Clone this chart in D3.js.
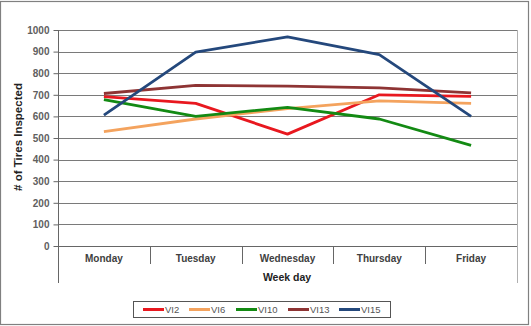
<!DOCTYPE html>
<html><head><meta charset="utf-8">
<script src="https://cdn.jsdelivr.net/npm/d3@7"></script>
<style>body{margin:0;background:#fff}svg{display:block}text{font-family:"Liberation Sans",Arial,sans-serif}</style>
</head><body><svg id="c" width="531" height="326"></svg>
<script>
const days = ["Monday","Tuesday","Wednesday","Thursday","Friday"];
const seriesNames = ["VI2","VI6","VI10","VI13","VI15"];
const colors = ["#e8181f","#f4a35e","#138a13","#8e3434","#24487c"];
const VI2  = [692,660,518,700,693];
const VI6  = [530,588,636,672,660];
const VI10 = [678,600,642,588,466];
const VI13 = [706,744,740,732,709];
const VI15 = [606,898,968,886,600];
const yTicks = [0,100,200,300,400,500,600,700,800,900,1000];
const allSeries = [VI2,VI6,VI10,VI13,VI15];

const svg = d3.select("#c");
const L=58,R=517,T=30,B=246;
svg.append("rect").attr("x",0.5).attr("y",1.5).attr("width",528).attr("height",323).attr("fill","none").attr("stroke","#808080").attr("stroke-width",1.2);

const x = d3.scaleBand().domain(days).range([L,R]);
const y = d3.scaleLinear().domain([0,1000]).range([B,T]);

svg.append("line").attr("x1",R+0.5).attr("x2",R+0.5).attr("y1",T).attr("y2",283).attr("stroke","#b0b0b0");
svg.append("line").attr("x1",L).attr("x2",R).attr("y1",T+0.5).attr("y2",T+0.5).attr("stroke","#b0b0b0");

svg.append("g").selectAll("line").data(yTicks.filter(d=>d>0)).join("line")
  .attr("x1",L).attr("x2",R).attr("y1",d=>Math.round(y(d))+0.5).attr("y2",d=>Math.round(y(d))+0.5)
  .attr("stroke","#7a7a7a").attr("stroke-width",1);

const ya = svg.append("g").attr("transform",`translate(${L+0.5},0)`)
  .call(d3.axisLeft(y).tickValues(yTicks).tickSize(5).tickPadding(4).tickFormat(d3.format("d")));
ya.select(".domain").remove();
ya.selectAll("line").attr("stroke","#666");
ya.selectAll("text").attr("font-size",10).attr("font-weight","bold").attr("fill","#606060");
svg.append("line").attr("x1",L+0.5).attr("x2",L+0.5).attr("y1",T).attr("y2",283).attr("stroke","#666");

svg.append("line").attr("x1",L).attr("x2",R).attr("y1",B+0.5).attr("y2",B+0.5).attr("stroke","#666");
svg.append("g").selectAll("line").data(days.slice(1)).join("line")
  .attr("x1",d=>Math.round(x(d))+0.5).attr("x2",d=>Math.round(x(d))+0.5).attr("y1",B).attr("y2",264).attr("stroke","#666");
svg.append("g").selectAll("text").data(days).join("text")
  .attr("x",d=>x(d)+x.bandwidth()/2).attr("y",262).attr("text-anchor","middle")
  .attr("font-size",10).attr("font-weight","bold").attr("fill","#404040").text(d=>d);
svg.append("text").attr("x",287).attr("y",281).attr("text-anchor","middle").attr("font-size",10.5).attr("font-weight","bold").attr("fill","#222").text("Week day");
svg.append("text").attr("transform","translate(22,137) rotate(-90)").attr("text-anchor","middle").attr("font-size",11.5).attr("font-weight","bold").attr("fill","#222").text("# of Tires Inspected");

const line = d3.line().x((d,i)=>x(days[i])+x.bandwidth()/2).y(d=>y(d));
svg.append("g").selectAll("path").data(allSeries).join("path")
  .attr("d",line).attr("fill","none").attr("stroke",(d,i)=>colors[i]).attr("stroke-width",2.8).attr("stroke-linejoin","round");

svg.append("rect").attr("x",133.5).attr("y",301.5).attr("width",257).attr("height",16).attr("fill","#fff").attr("stroke","#555");
const lx = [143,189,236,288,339];
const lg = svg.append("g").selectAll("g").data(seriesNames).join("g").attr("transform",(d,i)=>`translate(${lx[i]},309.5)`);
lg.append("line").attr("x1",0).attr("x2",21).attr("stroke",(d,i)=>colors[i]).attr("stroke-width",3);
lg.append("text").attr("x",22).attr("y",3.5).attr("font-size",9.5).attr("fill","#555").text(d=>d);
</script></body></html>
